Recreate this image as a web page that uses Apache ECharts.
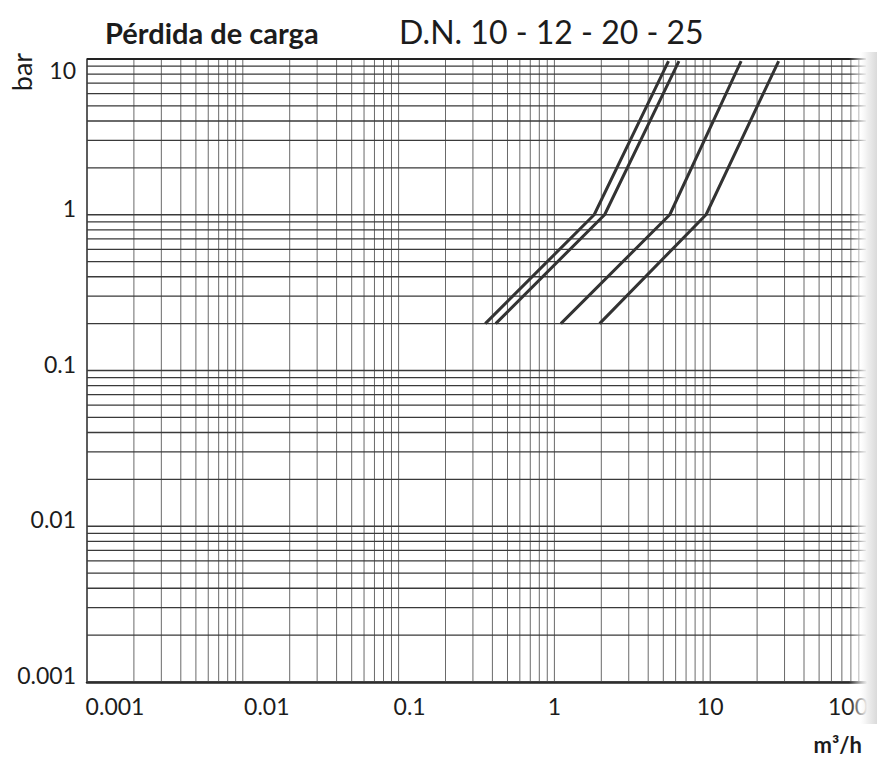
<!DOCTYPE html>
<html>
<head>
<meta charset="utf-8">
<title>Pérdida de carga</title>
<script src="https://cdn.jsdelivr.net/npm/echarts@6/dist/echarts.min.js"></script>
<style>
  html, body { margin: 0; padding: 0; background: #fff; }
  #chart { width: 877px; height: 760px; }
</style>
</head>
<body>
<div id="chart"></div>
<script>
// Caudal (m³/h) y pérdida de carga (bar) de cada diámetro nominal: [caudal, bar]
const dn10 = [[0.36, 0.2], [1.8, 1], [5.4, 9.7]];
const dn12 = [[0.42, 0.2], [2.1, 1], [6.3, 9.7]];
const dn20 = [[1.1, 0.2], [5.5, 1], [15.8, 9.7]];
const dn25 = [[1.95, 0.2], [9.4, 1], [27.5, 9.7]];

// Etiquetas de las décadas de cada eje
const xTickLabels = ['0.001', '0.01', '0.1', '1', '10', '100'];
const yTickLabels = ['0.001', '0.01', '0.1', '1', '10'];

// Rango de los ejes logarítmicos
const xRange = [0.001, 100];
const yRange = [0.001, 10];

// Retícula logarítmica: décadas y subdivisiones 2..9
const xDecades = [0.001, 0.01, 0.1, 1, 10];
const yDecades = [0.001, 0.01, 0.1, 1];
const gridSteps = [1, 2, 3, 4, 5, 6, 7, 8, 9];

const fmt = v => Number(v.toPrecision(6));
const xGridValues = [];
xDecades.forEach(d => gridSteps.forEach(s => xGridValues.push(fmt(d * s))));
const yGridValues = [];
yDecades.forEach(d => gridSteps.forEach(s => yGridValues.push(fmt(d * s))));

// Cada línea de la retícula es un tramo entre los extremos del eje contrario,
// separado del siguiente por un hueco ('-')
const verticalGrid = [];
xGridValues.forEach(v => { verticalGrid.push([v, yRange[0]], [v, yRange[1]], '-'); });
const horizontalGrid = [];
yGridValues.forEach(v => { horizontalGrid.push([xRange[0], v], [xRange[1], v], '-'); });

const FONT = 'Lato, "Open Sans", sans-serif';
const INK = '#1c1c1c';

const chart = echarts.init(document.getElementById('chart'), null, { renderer: 'svg' });

function labelFor(list, v) {
  const exp = Math.round(Math.log10(v));
  const match = list.find(t => Math.round(Math.log10(parseFloat(t))) === exp);
  return match || '';
}

function gridSeries(name, data, color, width, z) {
  return {
    name, type: 'line', data, z,
    connectNulls: false, showSymbol: false, symbol: 'none',
    lineStyle: { color, width, type: 'solid' },
    silent: true, animation: false, clip: true
  };
}

function curve(name, data) {
  return {
    name, type: 'line', data,
    showSymbol: false, symbol: 'none',
    lineStyle: { color: '#333', width: 3 },
    z: 5, silent: true, animation: false
  };
}

chart.setOption({
  backgroundColor: '#fff',
  animation: false,
  title: [
    {
      text: 'Pérdida de carga', left: 100, top: 13,
      textStyle: { fontFamily: FONT, fontWeight: 'bold', fontSize: 29, color: INK }
    },
    {
      text: 'D.N. 10 - 12 - 20 - 25', left: 394, top: 10,
      textStyle: { fontFamily: FONT, fontWeight: 'normal', fontSize: 32, color: INK }
    }
  ],
  grid: { left: 87, right: 11, top: 59, bottom: 78, containLabel: false },
  xAxis: {
    type: 'log', logBase: 10, min: xRange[0], max: xRange[1],
    axisLine: { show: true, lineStyle: { color: '#222', width: 2.5 } },
    axisTick: { show: false },
    splitLine: { show: false },
    axisLabel: {
      margin: 12,
      color: INK, fontFamily: FONT, fontSize: 23,
      formatter: v => {
        const t = labelFor(xTickLabels, v);
        const e = Math.round(Math.log10(v));
        const style = { '-3': 's3', '-2': 's2', '-1': 's1', '0': 'c', '1': 'c', '2': 'e' }[e] || 'c';
        return '{' + style + '|' + t + '}';
      },
      rich: {
        s3: { fontFamily: FONT, fontSize: 23, color: INK, padding: [0, 0, 0, 56] },
        s2: { fontFamily: FONT, fontSize: 23, color: INK, padding: [0, 0, 0, 48] },
        s1: { fontFamily: FONT, fontSize: 23, color: INK, padding: [0, 0, 0, 22] },
        c:  { fontFamily: FONT, fontSize: 23, color: INK },
        e:  { fontFamily: FONT, fontSize: 23, color: INK, padding: [0, 36, 0, 0] }
      }
    }
  },
  yAxis: {
    type: 'log', logBase: 10, min: yRange[0], max: yRange[1],
    axisLine: { show: true, lineStyle: { color: '#222', width: 1.6 } },
    axisTick: { show: false },
    splitLine: { show: false },
    axisLabel: {
      margin: 11,
      color: INK, fontFamily: FONT, fontSize: 23,
      formatter: v => {
        const t = labelFor(yTickLabels, v);
        return Math.round(Math.log10(v)) === 1 ? '{t|' + t + '}' : '{u|' + t + '}';
      },
      rich: {
        u: { fontFamily: FONT, fontSize: 23, color: INK, padding: [0, 0, 14, 0] },
        t: { fontFamily: FONT, fontSize: 23, color: INK, padding: [22, 0, 0, 0] }
      }
    }
  },
  graphic: [
    {
      type: 'text', x: 21, y: 72, rotation: Math.PI / 2, silent: true,
      style: { text: 'bar', font: 'normal 27px ' + FONT, fill: INK, align: 'center', verticalAlign: 'middle' }
    },
    {
      type: 'text', x: 862, y: 744, silent: true,
      style: { text: 'm³/h', font: 'bold 22px ' + FONT, fill: INK, align: 'right', verticalAlign: 'middle' }
    },
    {
      // sombra del borde derecho de la hoja
      type: 'rect', shape: { x: 849, y: 52, width: 28, height: 672 }, silent: true, z: 100,
      style: {
        fill: new echarts.graphic.LinearGradient(0, 0, 1, 0, [
          { offset: 0, color: 'rgba(255,255,255,0)' },
          { offset: 0.4, color: 'rgba(255,255,255,0.6)' },
          { offset: 0.65, color: 'rgba(240,240,240,1)' },
          { offset: 1, color: 'rgba(218,218,218,1)' }
        ])
      }
    }
  ],
  series: [
    gridSeries('retícula vertical', verticalGrid, '#6a6a6a', 1, 1),
    gridSeries('retícula horizontal', horizontalGrid, '#3a3a3a', 1.3, 2),
    gridSeries('borde superior', [[xRange[0], yRange[1]], [xRange[1], yRange[1]]], '#222', 2.2, 3),
    curve('D.N. 10', dn10),
    curve('D.N. 12', dn12),
    curve('D.N. 20', dn20),
    curve('D.N. 25', dn25)
  ]
});
</script>
</body>
</html>
